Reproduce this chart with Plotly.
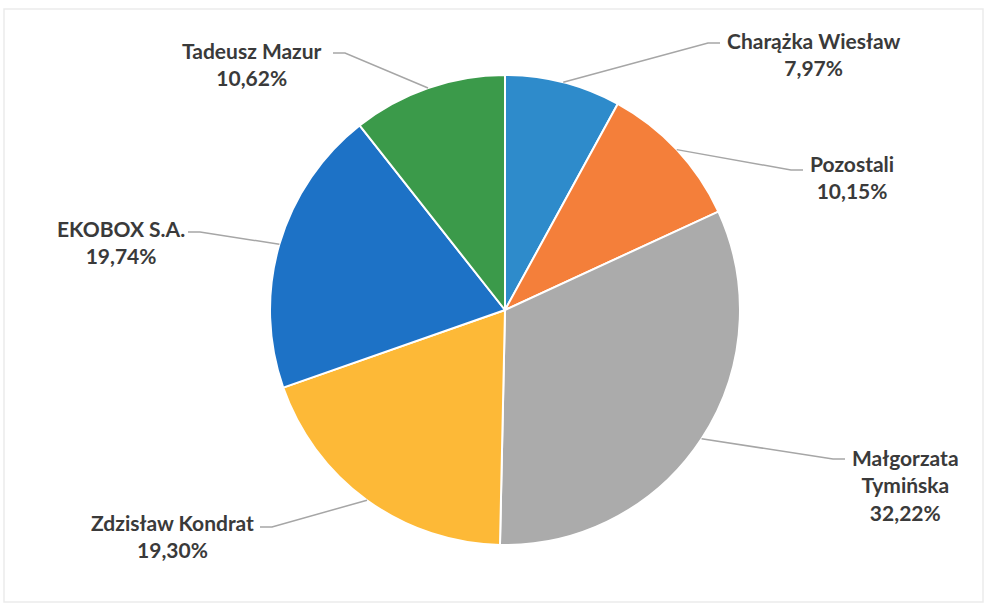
import math
import plotly.graph_objects as go

# ---- data ----
labels = ["Charążka Wiesław", "Pozostali", "Małgorzata Tymińska",
          "Zdzisław Kondrat", "EKOBOX S.A.", "Tadeusz Mazur"]
label_text = ["Charążka Wiesław", "Pozostali", "Małgorzata<br>Tymińska",
              "Zdzisław Kondrat", "EKOBOX S.A.", "Tadeusz Mazur"]
values = [7.97, 10.15, 32.22, 19.30, 19.74, 10.62]
colors = ["#2e8bcb", "#f47f3a", "#ababab", "#fdb937", "#1d72c6", "#3b9a4a"]

# ---- layout constants (pixels) ----
W, H = 986, 606
CX, CY, R = 505, 310, 235
# label block centres and leader attach points
label_center = [(813, 54), (852, 177), (905, 485), (172, 536), (121, 242), (252, 64)]
attach = [(720, 43), (803, 170), (845, 459), (260, 527), (188, 232), (333, 53)]


def px(x):
    return x / W


def py(y):
    return 1 - y / H


fig = go.Figure(go.Pie(
    labels=labels,
    values=values,
    sort=False,
    direction="clockwise",
    rotation=0,
    textinfo="none",
    marker=dict(colors=colors, line=dict(color="white", width=2)),
    domain=dict(x=[px(CX - R), px(CX + R)], y=[py(CY + R), py(CY - R)]),
    showlegend=False,
    hovertemplate="%{label}: %{value:.2f}%<extra></extra>",
))

total = sum(values)
cum = 0.0
shapes = []
annotations = []
for i, v in enumerate(values):
    mid = (cum + v / 2) / total * 2 * math.pi
    cum += v
    ex = CX + R * math.sin(mid)
    ey = CY - R * math.cos(mid)
    ax, ay = attach[i]
    bx = ax + (12 if ex > ax else -12)
    path = f"M {px(ex)} {py(ey)} L {px(bx)} {py(ay)} L {px(ax)} {py(ay)}"
    shapes.append(dict(type="path", xref="paper", yref="paper", path=path,
                       line=dict(color="#a6a6a6", width=1.5)))
    pct = f"{v:.2f}".replace(".", ",") + "%"
    lx, ly = label_center[i]
    annotations.append(dict(
        x=px(lx), y=py(ly), xref="paper", yref="paper",
        text=f"<b>{label_text[i]}<br>{pct}</b>", showarrow=False,
        xanchor="center", yanchor="middle", align="center",
        font=dict(family="Lato, 'Open Sans', sans-serif", size=21, color="#3a3a3a"),
    ))

# faint frame
shapes.append(dict(type="rect", xref="paper", yref="paper",
                   x0=px(4), x1=px(983), y0=py(602), y1=py(9),
                   line=dict(color="#ebebeb", width=1.5), layer="below"))

fig.update_layout(
    width=W, height=H,
    margin=dict(l=0, r=0, t=0, b=0),
    paper_bgcolor="white",
    plot_bgcolor="white",
    shapes=shapes,
    annotations=annotations,
)

fig.write_html("out.html", config={"displayModeBar": False},
               post_script="document.body.style.margin='0';document.body.style.overflow='hidden';")
